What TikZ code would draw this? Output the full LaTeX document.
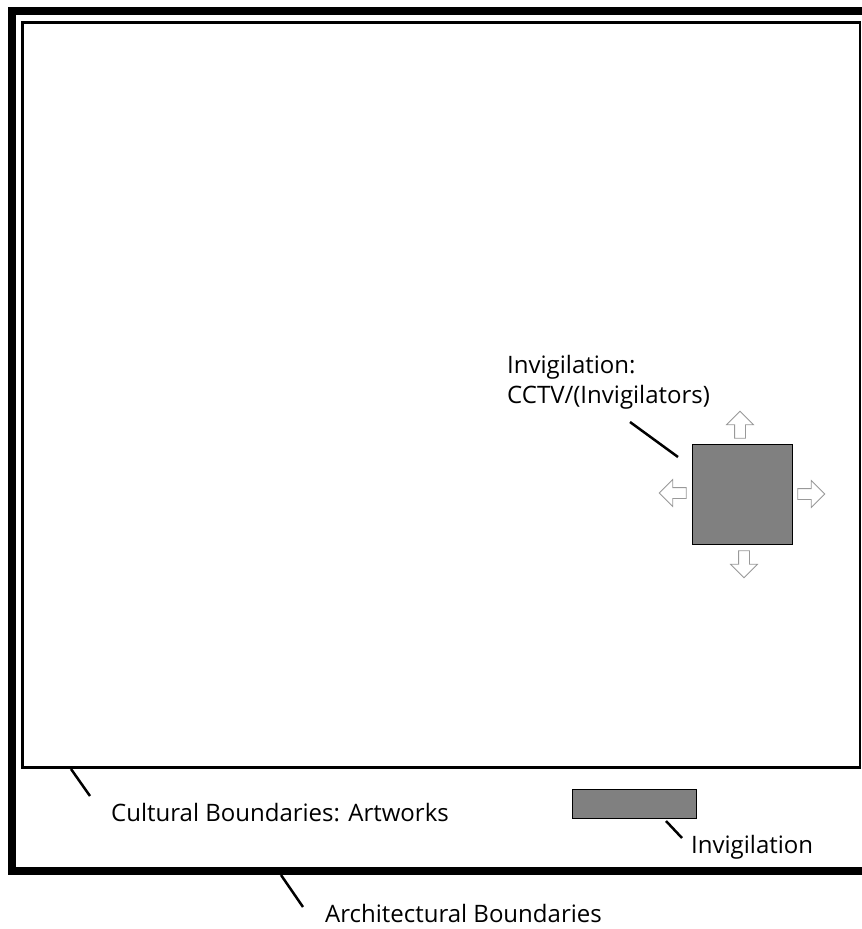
\documentclass[tikz,border=0pt]{standalone}
\usepackage{fontspec}
\setmainfont{Open Sans}
\usetikzlibrary{shapes.arrows}
\tikzset{
  plan text/.style={font=\fontsize{24}{30}\selectfont, inner sep=0pt, anchor=base west, align=left},
  leader/.style={line width=2.5pt},
  post/.style={draw=black, line width=0.8pt, fill=gray, inner sep=0pt},
  gaze/.style={single arrow, draw=black!40, fill=white, line width=0.8pt, inner sep=5pt,
    minimum height=27pt, single arrow head extend=8pt},
}
\begin{document}
\begin{tikzpicture}[x=1pt, y=-1pt]
\clip (0,0) rectangle (862,929);
\fill[white] (0,0) rectangle (862,929);
% walls of the room and the zone of the works
\draw[line width=8pt] (12,11) rectangle (885,871);
\draw[line width=2.5pt] (22.5,22.5) rectangle (860,767.5);
% invigilation points
\node[post, minimum size=100pt] (cctv) at (742,494.5) {};
\node[post, minimum width=124pt, minimum height=29pt] (desk) at (634,803.5) {};
\node[gaze, shape border rotate=90] (up) at (740,427.5) {};
\node[gaze, shape border rotate=180] (left) at (675.5,493) {};
\node[gaze, shape border rotate=0] (right) at (808.5,494) {};
\node[gaze, shape border rotate=270] (down) at (744,561.5) {};
% labels
\node[plan text] (cctvlabel) at (507,403) {Invigilation:\\CCTV/(Invigilators)};
\node[plan text] (culture) at (111,821) {Cultural Boundaries: Artworks};
\node[plan text] (archi) at (325,922) {Architectural Boundaries};
\node[plan text] (desklabel) at (691,853) {Invigilation};
% leader lines
\coordinate (c1) at (630,422);
\coordinate (c2) at (678,457);
\coordinate (a1) at (71,769);
\coordinate (a2) at (90,796);
\coordinate (b1) at (281,875);
\coordinate (b2) at (303,907);
\coordinate (d1) at (666,821);
\coordinate (d2) at (682,838);
\draw[leader] (c1) -- (c2);
\draw[leader] (a1) -- (a2);
\draw[leader] (b1) -- (b2);
\draw[leader] (d1) -- (d2);
\end{tikzpicture}
\end{document}
